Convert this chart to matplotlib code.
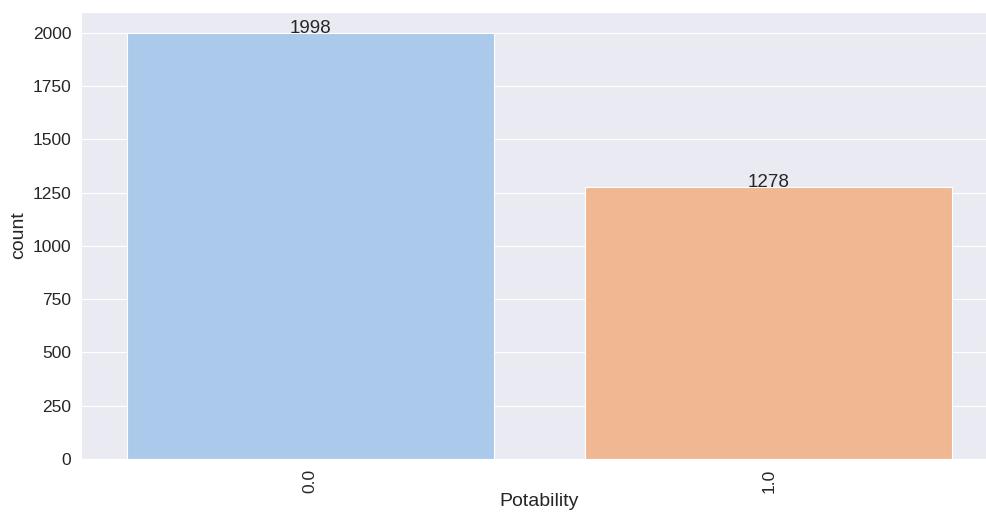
import matplotlib
matplotlib.use("Agg")
import matplotlib.pyplot as plt
import seaborn as sns
import numpy as np

categories = ["0.0", "1.0"]
counts = [1998, 1278]

sns.set_style("darkgrid")
plt.rcParams['font.family'] = ['Liberation Sans', 'DejaVu Sans']

colors = [sns.desaturate(c, 0.75) for c in sns.color_palette("pastel")[:2]]

fig = plt.figure(figsize=(9.86, 5.12), dpi=100)
ax = fig.add_axes([0.0822, 0.1035, 0.930, 0.873])

xpos = np.arange(len(categories))
bars = ax.bar(xpos, counts, width=0.8, color=colors, edgecolor='white', linewidth=0.8)
ax.set_xlim(-0.5, len(categories) - 0.5)
ax.set_xticks(xpos)
ax.set_xticklabels(categories, rotation=90)
ax.grid(False, axis='x')
ax.tick_params(labelsize=12.5, colors='.15')
ax.set_xlabel("Potability", fontsize=14, color='.15', labelpad=0.3)
ax.set_ylabel("count", fontsize=14, color='.15')

for p in bars:
    h = p.get_height()
    ax.annotate(str(int(h)), (p.get_x() + p.get_width() / 2, h),
                ha='center', va='baseline', fontsize=13.5, color='.15')

fig.savefig("out.png", dpi=100)
